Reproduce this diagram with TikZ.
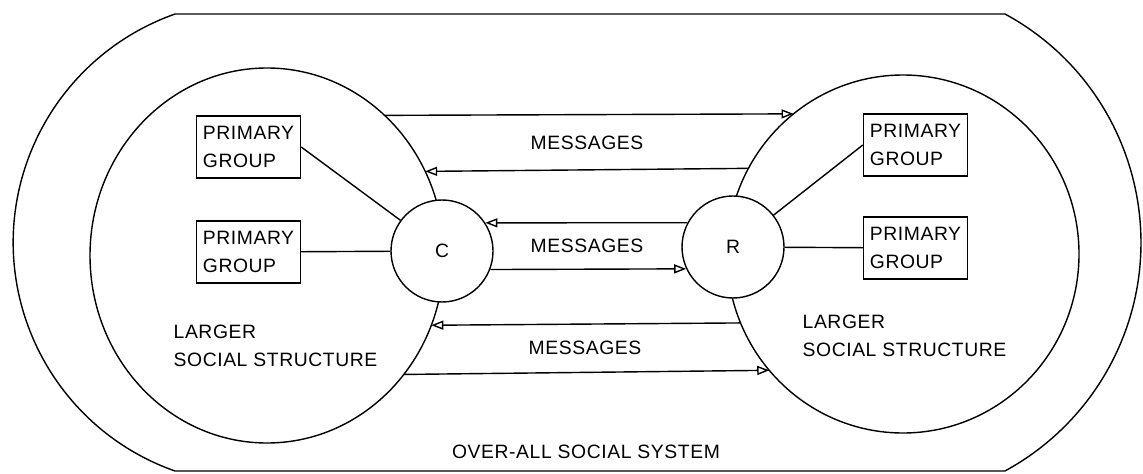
\documentclass[tikz,border=0pt]{standalone}
\usepackage{fontspec}
\setmainfont{Liberation Sans}[LetterSpace=3]
\usetikzlibrary{arrows.meta,shapes.geometric}

\begin{document}
\begin{tikzpicture}[>={Triangle[open,length=2.4mm,width=1.8mm]},line width=0.8pt,
  font=\fontsize{11}{16}\selectfont,
  grp/.style={draw,rectangle,minimum width=2.08cm,minimum height=1.24cm,inner sep=1pt,align=left},
  hub/.style={draw,circle,fill=white,minimum size=2.04cm,inner sep=0pt},
  field/.style={draw,ellipse,inner sep=0pt,outer sep=0pt}]
  \useasboundingbox (0,0) rectangle (22.86,9.46);

  % 总体社会系统外框
  \draw (3.50,9.18) -- (20.10,9.18) arc[start angle=61.5,end angle=-61.5,radius=5.2]
    -- (3.50,0.04) arc[start angle=250.6,end angle=109.4,radius=4.845] -- cycle;

  % 两个较大的社会结构
  \node[field,minimum width=7.08cm,minimum height=7.5cm] (LS) at (5.34,4.35) {};
  \node[field,minimum width=7.04cm,minimum height=7.16cm] (RS) at (18.06,4.38) {};

  % 传播者与接收者
  \node[hub] (C) at (8.84,4.44) {C};
  \node[hub] (R) at (14.66,4.52) {R};

  % 初级群体
  \node[grp] (LP1) at (4.97,6.52) {PRIMARY\\GROUP};
  \node[grp] (LP2) at (4.97,4.42) {PRIMARY\\GROUP};
  \node[grp] (RP1) at (18.31,6.56) {PRIMARY\\GROUP};
  \node[grp] (RP2) at (18.31,4.50) {PRIMARY\\GROUP};

  \draw (LP1.east) -- (C);
  \draw (LP2) -- (C);
  \draw (R) -- (RP1.west);
  \draw (R) -- (RP2);

  % 信息箭头
  \draw[->] (LS.50.17) -- (RS.128.59);
  \draw[->] (RS.151.61) -- (LS.28.49);
  \draw[->] (R.152) -- (C.33);
  \draw[->] (C.339.5) -- (R.205.5);
  \draw[->] (RS.203.02) -- (LS.337.77);
  \draw[->] (LS.319.98) -- (RS.221.72);

  % 文字标注
  \node at (11.74,6.60) {MESSAGES};
  \node at (11.74,4.54) {MESSAGES};
  \node at (11.70,2.50) {MESSAGES};
  \node at (11.72,0.43) {OVER-ALL SOCIAL SYSTEM};
  \node[align=left,anchor=west,inner sep=0pt] at (3.46,2.55) {LARGER\\SOCIAL STRUCTURE};
  \node[align=left,anchor=west,inner sep=0pt] at (16.04,2.74) {LARGER\\SOCIAL STRUCTURE};
\end{tikzpicture}
\end{document}
